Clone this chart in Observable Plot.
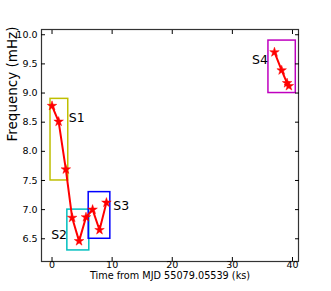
<!DOCTYPE html>
<html><head><meta charset="utf-8">
<script src="https://cdn.jsdelivr.net/npm/d3@7"></script>
<script src="https://cdn.jsdelivr.net/npm/@observablehq/plot@0.6"></script>
<style>body{margin:0;background:#fff}</style></head>
<body><div id="chart"></div>
<script>
// Main sequence (S1–S3)
const timeA = [0.0, 1.1, 2.3, 3.35, 4.5, 5.65, 6.75, 7.9, 9.05];
const freqA = [8.78, 8.51, 7.69, 6.86, 6.46, 6.87, 7.0, 6.65, 7.12];
// S4 sequence
const timeB = [37.0, 38.2, 39.1, 39.4];
const freqB = [9.70, 9.39, 9.17, 9.12];
// Boxes
const boxNames = ["S1", "S2", "S3", "S4"];
const boxX1 = [-0.25, 2.55, 6.1, 36.0];
const boxX2 = [2.7, 6.2, 9.7, 40.55];
const boxY1 = [7.5, 6.3, 6.5, 9.0];
const boxY2 = [8.9, 7.0, 7.3, 9.9];
const boxColors = ["#bfbf00", "#00bfbf", "#0000ff", "#bf00bf"];
const labelX = [2.8, 2.5, 10.2, 35.9];
const labelY = [8.58, 6.57, 7.07, 9.57];
const labelAnchor = ["start", "end", "start", "end"];
// Ticks
const xTicks = [0, 10, 20, 30, 40];
const yTicks = [6.5, 7.0, 7.5, 8.0, 8.5, 9.0, 9.5, 10.0];

const seriesA = timeA.map((t, i) => ({t, f: freqA[i]}));
const seriesB = timeB.map((t, i) => ({t, f: freqB[i]}));
const boxes = boxNames.map((n, i) => ({n, x1: boxX1[i], x2: boxX2[i], y1: boxY1[i], y2: boxY2[i], c: boxColors[i], lx: labelX[i], ly: labelY[i], a: labelAnchor[i]}));

const font = "DejaVu Sans, sans-serif";
const chart = Plot.plot({
  width: 331, height: 291,
  marginLeft: 41, marginRight: 33, marginTop: 29, marginBottom: 30,
  style: {fontFamily: font, background: "#fff", color: "#000"},
  x: {domain: [-1.75, 41]},
  y: {domain: [6.11, 10.09]},
  marks: [
    Plot.rect(boxes, {x1: "x1", x2: "x2", y1: "y1", y2: "y2", stroke: "c", fill: "none", strokeWidth: 1.5}),
    Plot.line(seriesA, {x: "t", y: "f", stroke: "#ff0000", strokeWidth: 2}),
    Plot.line(seriesB, {x: "t", y: "f", stroke: "#ff0000", strokeWidth: 2}),
    Plot.dot(seriesA, {x: "t", y: "f", symbol: "star", fill: "#ff0000", stroke: "#ff0000", strokeWidth: 0.5, r: 3}),
    Plot.dot(seriesB, {x: "t", y: "f", symbol: "star", fill: "#ff0000", stroke: "#ff0000", strokeWidth: 0.5, r: 3}),
    Plot.text(boxes.filter(d => d.a === "start"), {x: "lx", y: "ly", text: "n", textAnchor: "start", fontSize: 12.5, fill: "#000"}),
    Plot.text(boxes.filter(d => d.a === "end"), {x: "lx", y: "ly", text: "n", textAnchor: "end", fontSize: 12.5, fill: "#000"}),
    Plot.frame({stroke: "#333", strokeWidth: 1.2}),
    Plot.axisX(xTicks, {anchor: "bottom", tickSize: -4, tickPadding: 4, fontSize: 9.5, label: null, tickFormat: d => String(d)}),
    Plot.axisX(xTicks, {anchor: "top", tickSize: -4, tickFormat: () => "", label: null}),
    Plot.axisY(yTicks, {anchor: "left", tickSize: -4, tickPadding: 8, fontSize: 9.5, label: null, tickFormat: d => d.toFixed(1)}),
    Plot.axisY(yTicks, {anchor: "right", tickSize: -4, tickFormat: () => "", label: null}),
    Plot.text(["Time from MJD 55079.05539 (ks)"], {frameAnchor: "bottom", dy: 17, fontSize: 9.7, fill: "#000"}),
    Plot.text(["Frequency (mHz)"], {frameAnchor: "left", dx: -29, dy: -4, rotate: -90, fontSize: 13.5, fill: "#000"})
  ]
});
document.getElementById("chart").appendChild(chart);
</script>
</body></html>
